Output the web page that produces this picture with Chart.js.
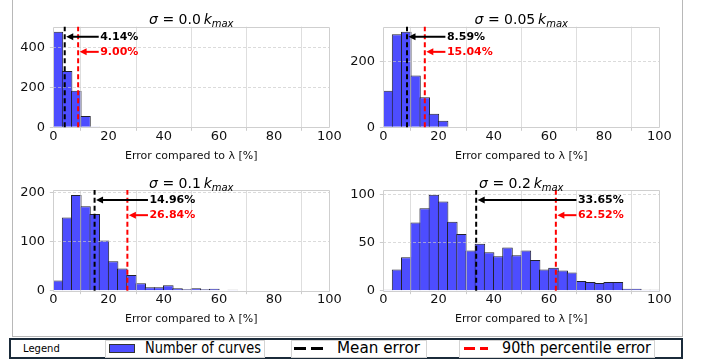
<!DOCTYPE html>
<html>
<head>
<meta charset="utf-8">
<script src="https://cdn.jsdelivr.net/npm/chart.js@4.4.1/dist/chart.umd.min.js"></script>
<style>
  html, body { margin: 0; padding: 0; background: #fff; }
  body { width: 702px; height: 364px; position: relative; overflow: hidden; font-family: "DejaVu Sans", sans-serif; }
  canvas { position: absolute; }
  .title { position: absolute; font-size: 14px; line-height: 16px; white-space: nowrap; transform: translateX(-50%); color: #000; }
  .title sub { font-size: 10px; vertical-align: -3px; font-style: italic; }
  .frame { position: absolute; background: #b8b8b8; }
  #legend { position: absolute; left: 9px; top: 337.5px; width: 674px; height: 21.5px; box-sizing: border-box; border: 2px solid #1b2b3a; background: #fff; }
  .cell { position: absolute; top: 0.5px; height: 16px; border: 1px solid #d4d4d4; box-sizing: content-box; }
  .ltxt { position: absolute; white-space: nowrap; color: #000; transform-origin: 0 50%; line-height: 18px; }
  .dash { position: absolute; height: 3px; }
</style>
</head>
<body>
<div class="frame" style="left:12px;top:0;width:1px;height:337px"></div>
<div class="frame" style="left:681.5px;top:0;width:1px;height:337px"></div>
<div class="frame" style="left:12px;top:336px;width:670px;height:1px"></div>

<canvas id="c0" width="351" height="170" style="left:0;top:0"></canvas>
<canvas id="c1" width="351" height="170" style="left:351px;top:0"></canvas>
<canvas id="c2" width="351" height="166" style="left:0;top:170px"></canvas>
<canvas id="c3" width="351" height="166" style="left:351px;top:170px"></canvas>

<div id="titles"></div>

<div id="legend">
  <div class="ltxt" id="lg0" style="left:12px;top:0;font-size:10px;">Legend</div>
  <div class="cell" style="left:94px;width:158px;"></div>
  <div style="position:absolute;left:98px;top:4px;width:24px;height:7.5px;background:#4d4dff;border:1px solid #333;"></div>
  <div class="ltxt" id="lg1" style="left:134px;top:-0.5px;font-size:15px;">Number of curves</div>
  <div class="cell" style="left:280px;width:134px;"></div>
  <div class="dash" style="left:283px;top:7.5px;width:12px;background:#000;"></div>
  <div class="dash" style="left:300px;top:7.5px;width:12px;background:#000;"></div>
  <div class="ltxt" id="lg2" style="left:326px;top:-0.5px;font-size:15px;">Mean error</div>
  <div class="cell" style="left:448px;width:194px;"></div>
  <div class="dash" style="left:453px;top:7.5px;width:11px;background:#f00;"></div>
  <div class="dash" style="left:469px;top:7.5px;width:8px;background:#f00;"></div>
  <div class="ltxt" id="lg3" style="left:491px;top:-0.5px;font-size:15px;">90th percentile error</div>
</div>

<script>
// ---------------- DATA ----------------
const sigmaLabels = ['0.0', '0.05', '0.1', '0.2'];
const binCount = 30;                 // histogram bins spanning 0–100 %
const xTickValues = [0, 20, 40, 60, 80, 100];

// counts per bin (bin width = 100/30 %)
const countsSigma00  = [478, 282, 183, 57, 2, 0, 0, 0, 0, 0, 0, 0, 0, 0, 0, 0, 0, 0, 0, 0, 0, 0, 0, 0, 0, 0, 0, 0, 0, 0];
const countsSigma005 = [111, 282, 290, 157, 91, 41, 20, 2, 0, 0, 0, 0, 0, 0, 0, 0, 0, 0, 0, 0, 0, 0, 0, 0, 0, 0, 0, 0, 0, 0];
const countsSigma01  = [21, 149, 195, 172, 156, 102, 60, 45, 32, 15, 7, 7, 11, 5, 3, 5, 3, 4, 0, 2, 0, 0, 1, 0, 1, 1, 0, 0, 0, 0];
const countsSigma02  = [1, 22, 35, 71, 86, 100, 93, 72, 59, 42, 49, 40, 36, 45, 37, 42, 32, 22, 24, 21, 19, 10, 9, 8, 9, 9, 2, 2, 1, 1];

const meanErrors = [4.14, 8.59, 14.96, 33.65];
const p90Errors  = [9.00, 15.04, 26.84, 62.52];

const yAxisMax   = [503, 305, 205, 105];
const yTickValues = [[0, 200, 400], [0, 200], [0, 100, 200], [0, 50, 100]];

// ---------------- LAYOUT ----------------
const allCounts = [countsSigma00, countsSigma005, countsSigma01, countsSigma02];
const panels = [
  { id: 'c0', left: 0,   top: 0,   w: 351, h: 170, L: 53.3, R: 329.3, T: 26.7, B: 127.3, titleY: 11 },
  { id: 'c1', left: 351, top: 0,   w: 351, h: 170, L: 32.3, R: 308.3, T: 26.7, B: 127.3, titleY: 11 },
  { id: 'c2', left: 0,   top: 170, w: 351, h: 166, L: 53.3, R: 329.3, T: 20,   B: 120.7, titleY: 174.5 },
  { id: 'c3', left: 351, top: 170, w: 351, h: 166, L: 32.3, R: 308.3, T: 20,   B: 120.7, titleY: 174.5 }
];
const YW = 45, XH = 35.3;
const FONT = 'DejaVu Sans';

const overlayPlugin = {
  id: 'overlay',
  afterDraw(chart, args, opts) {
    const { ctx, chartArea: a } = chart;
    const x = chart.scales.x, y = chart.scales.y;
    ctx.save();
    // axes frame (spines)
    ctx.strokeStyle = '#cfcfcf';
    ctx.lineWidth = 1;
    const l = Math.round(a.left) + 0.5, t = Math.round(a.top) + 0.5;
    const r = Math.round(a.right) + 0.5, b = Math.round(a.bottom) + 0.5;
    ctx.beginPath();
    ctx.moveTo(l, b); ctx.lineTo(l, t); ctx.lineTo(r, t); ctx.lineTo(r, b); ctx.lineTo(l, b);
    ctx.stroke();

    const vline = (v, color) => {
      const px = x.getPixelForValue(v);
      ctx.beginPath();
      ctx.setLineDash([5, 3]);
      ctx.strokeStyle = color;
      ctx.lineWidth = 2;
      ctx.moveTo(px, a.bottom);
      ctx.lineTo(px, a.top);
      ctx.stroke();
      ctx.setLineDash([]);
      return px;
    };
    const mx = vline(opts.mean, '#000000');
    const px90 = vline(opts.p90, '#ff0000');

    const textX = x.getPixelForValue(opts.p90 + 8);
    const arrow = (tipX, yVal, color, label) => {
      const yy = y.getPixelForValue(yVal);
      const tip = tipX + 1.5, tail = textX - 1.5;
      const head = 7, hw = 3.5;
      ctx.strokeStyle = color;
      ctx.fillStyle = color;
      ctx.lineWidth = 2;
      ctx.beginPath();
      ctx.moveTo(tail, yy);
      ctx.lineTo(tip + head - 1, yy);
      ctx.stroke();
      ctx.beginPath();
      ctx.moveTo(tip, yy);
      ctx.lineTo(tip + head, yy - hw);
      ctx.lineTo(tip + head, yy + hw);
      ctx.closePath();
      ctx.fill();
      ctx.font = 'bold 11px "' + FONT + '"';
      ctx.textBaseline = 'middle';
      ctx.textAlign = 'left';
      ctx.fillText(label, textX, yy);
    };
    arrow(mx, 0.9 * y.max, '#000000', opts.mean.toFixed(2) + '%');
    arrow(px90, 0.75 * y.max, '#ff0000', opts.p90.toFixed(2) + '%');
    ctx.restore();
  }
};

const titlesEl = document.getElementById('titles');

panels.forEach((p, i) => {
  const binW = 100 / binCount;
  const counts = allCounts[i];
  const data = counts.map((c, k) => ({ x: k * binW + binW / 2, y: c }));
  const ticksY = yTickValues[i];

  new Chart(document.getElementById(p.id), {
    type: 'bar',
    data: {
      datasets: [{
        label: 'Number of curves',
        data: data,
        backgroundColor: '#4d4dff',
        borderColor: '#22222e',
        borderWidth: c => {
          const k = c.dataIndex;
          const next = k + 1 < counts.length ? counts[k + 1] : 0;
          return { left: 1, top: 1, bottom: 0, right: next < counts[k] ? 1 : 0 };
        },
        borderSkipped: false,
        barPercentage: 1.15,
        categoryPercentage: 1.0
      }]
    },
    options: {
      responsive: false,
      animation: false,
      devicePixelRatio: 1,
      layout: { padding: { left: p.L - YW, right: p.w - p.R, top: p.T, bottom: p.h - p.B - XH } },
      plugins: {
        legend: { display: false },
        tooltip: { enabled: false },
        title: { display: false },
        overlay: { mean: meanErrors[i], p90: p90Errors[i] }
      },
      scales: {
        x: {
          type: 'linear',
          min: 0, max: 100,
          offset: false,
          afterFit: s => { s.height = XH; },
          afterBuildTicks: s => { s.ticks = xTickValues.map(v => ({ value: v })); },
          ticks: { font: { family: FONT, size: 13 }, color: '#111', padding: -2, maxRotation: 0, autoSkip: false },
          grid: { color: 'rgba(205,205,205,0.65)', lineWidth: 1, z: 1, drawTicks: true, tickLength: 3.5, tickColor: '#cccccc' },
          border: { display: false },
          title: { display: true, text: 'Error compared to λ [%]', font: { family: FONT, size: 11 }, color: '#111', padding: 0 }
        },
        y: {
          min: 0, max: yAxisMax[i],
          afterFit: s => { s.width = YW; },
          afterBuildTicks: s => { s.ticks = ticksY.map(v => ({ value: v })); },
          ticks: { font: { family: FONT, size: 13 }, color: '#111', padding: 4.8 },
          grid: {
            color: c => (c.tick && c.tick.value === 0) ? 'rgba(0,0,0,0)' : 'rgba(200,200,200,0.65)',
            tickColor: '#cccccc',
            lineWidth: 1, z: 1, drawTicks: true, tickLength: 3.5
          },
          border: { display: false, dash: [3, 2] }
        }
      }
    },
    plugins: [overlayPlugin]
  });

  const t = document.createElement('div');
  t.className = 'title';
  t.style.left = (p.left + (p.L + p.R) / 2) + 'px';
  t.style.top = p.titleY + 'px';
  t.innerHTML = '<i>σ</i> = ' + sigmaLabels[i] + '&thinsp;<i>k</i><sub>max</sub>';
  titlesEl.appendChild(t);
});

// fit legend texts to their measured widths in the reference
function fitWidth(id, w) {
  const el = document.getElementById(id);
  const nat = el.getBoundingClientRect().width;
  if (nat > 0) el.style.transform = 'scaleX(' + (w / nat) + ')';
}
fitWidth('lg1', 116);
fitWidth('lg2', 83);
fitWidth('lg3', 149);
</script>
</body>
</html>
